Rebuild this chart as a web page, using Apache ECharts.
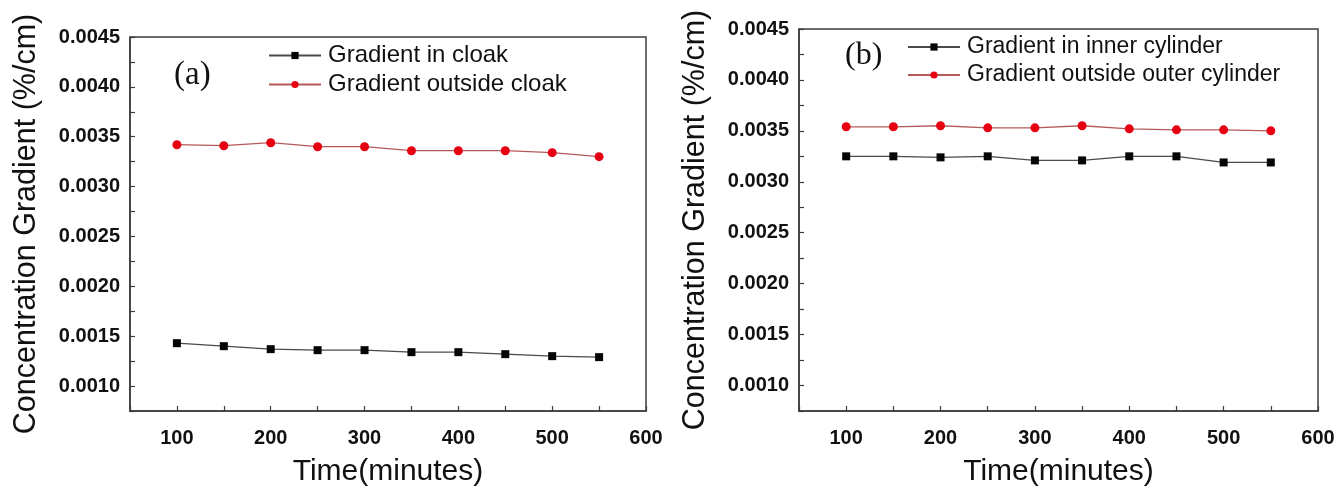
<!DOCTYPE html>
<html>
<head>
<meta charset="utf-8">
<script src="https://cdn.jsdelivr.net/npm/echarts@6/dist/echarts.min.js"></script>
<style>
  html, body { margin: 0; padding: 0; background: #fff; }
  #chart { width: 1338px; height: 492px; }
</style>
</head>
<body>
<div id="chart"></div>
<script>
// Sampling times (minutes)
const timeMinutes = [100, 150, 200, 250, 300, 350, 400, 450, 500, 550];

// (a) cloak
const gradientInCloak      = [0.00143, 0.00140, 0.00137, 0.00136, 0.00136, 0.00134, 0.00134, 0.00132, 0.00130, 0.00129];
const gradientOutsideCloak = [0.00342, 0.00341, 0.00344, 0.00340, 0.00340, 0.00336, 0.00336, 0.00336, 0.00334, 0.00330];

// (b) cylinders
const gradientInnerCylinder = [0.00325, 0.00325, 0.00324, 0.00325, 0.00321, 0.00321, 0.00325, 0.00325, 0.00319, 0.00319];
const gradientOuterCylinder = [0.00354, 0.00354, 0.00355, 0.00353, 0.00353, 0.00355, 0.00352, 0.00351, 0.00351, 0.00350];

// Labelled ticks
const xTickLabels = ['100', '200', '300', '400', '500', '600'];
const yTickLabels = ['0.0010', '0.0015', '0.0020', '0.0025', '0.0030', '0.0035', '0.0040', '0.0045'];

const SANS = 'Liberation Sans, Arial, sans-serif';
const SERIF = 'Liberation Serif, Times New Roman, serif';
const AXIS_COLOR = '#3c3c3c';
const TEXT_COLOR = '#111';

function pairs(ys) {
  return timeMinutes.map((t, i) => [t, ys[i]]);
}

function xAxisFor(gridIndex) {
  return {
    type: 'value', gridIndex, min: 50, max: 600, interval: 50,
    name: 'Time(minutes)', nameLocation: 'middle', nameGap: 46,
    nameTextStyle: { fontFamily: SANS, fontSize: 30, color: TEXT_COLOR },
    axisLine: { show: true, lineStyle: { color: AXIS_COLOR, width: 1.5 } },
    axisTick: { show: true, inside: true, length: 5, lineStyle: { color: AXIS_COLOR, width: 1.2 } },
    axisLabel: {
      margin: 17, fontFamily: SANS, fontSize: 20, fontWeight: 'bold', color: TEXT_COLOR,
      showMinLabel: true, showMaxLabel: true,
      formatter: v => (xTickLabels.includes(String(v)) ? String(v) : '')
    },
    splitLine: { show: false }
  };
}

function yAxisFor(gridIndex) {
  return {
    type: 'value', gridIndex, min: 0.00075, max: 0.0045, interval: 0.00025,
    name: 'Concentration Gradient (%/cm)', nameLocation: 'middle', nameGap: 88,
    nameTextStyle: { fontFamily: SANS, fontSize: 30.5, color: TEXT_COLOR },
    axisLine: { show: true, lineStyle: { color: AXIS_COLOR, width: 1.5 } },
    axisTick: { show: true, inside: true, length: 5, lineStyle: { color: AXIS_COLOR, width: 1.2 } },
    axisLabel: {
      margin: 10, fontFamily: SANS, fontSize: 20, fontWeight: 'bold', color: TEXT_COLOR,
      formatter: v => {
        const s = v.toFixed(4);
        return yTickLabels.includes(s) && Math.abs(v - parseFloat(s)) < 1e-9 ? s : '';
      }
    },
    splitLine: { show: false }
  };
}

function blackSeries(name, ys, idx) {
  return {
    name, type: 'line', xAxisIndex: idx, yAxisIndex: idx, data: pairs(ys),
    symbol: 'rect', symbolSize: 8,
    itemStyle: { color: '#050505' },
    lineStyle: { color: '#4a4a4a', width: 1.3 },
    emphasis: { disabled: true }, animation: false
  };
}

function redSeries(name, ys, idx) {
  return {
    name, type: 'line', xAxisIndex: idx, yAxisIndex: idx, data: pairs(ys),
    symbol: 'circle', symbolSize: 9,
    itemStyle: { color: '#e60012' },
    lineStyle: { color: '#b55a5a', width: 1.3 },
    emphasis: { disabled: true }, animation: false
  };
}

function legendFor(names, left, top, lineH, size) {
  return {
    data: names, orient: 'vertical', left, top,
    itemWidth: 52, itemHeight: 9, itemGap: 0,
    textStyle: { fontFamily: SANS, fontSize: size, color: TEXT_COLOR, lineHeight: lineH, padding: [0, 0, 0, 2] },
    padding: 0, selectedMode: false
  };
}

const chart = echarts.init(document.getElementById('chart'), null, { renderer: 'canvas' });

chart.setOption({
  backgroundColor: '#fff',
  animation: false,
  grid: [
    { left: 130, top: 37, width: 516, height: 380, show: true, borderColor: AXIS_COLOR, borderWidth: 1.5, backgroundColor: 'transparent' },
    { left: 799, top: 29, width: 519, height: 384, show: true, borderColor: AXIS_COLOR, borderWidth: 1.5, backgroundColor: 'transparent' }
  ],
  xAxis: [xAxisFor(0), xAxisFor(1)],
  yAxis: [yAxisFor(0), yAxisFor(1)],
  legend: [
    legendFor(['Gradient in cloak', 'Gradient outside cloak'], 268, 41, 29, 24),
    legendFor(['Gradient in inner cylinder', 'Gradient outside outer cylinder'], 907, 33, 28, 23)
  ],
  graphic: [
    { type: 'text', left: 174, top: 59, style: { text: '(a)', font: '33px ' + SERIF, fill: TEXT_COLOR } },
    { type: 'text', left: 845, top: 40, style: { text: '(b)', font: '32px ' + SERIF, fill: TEXT_COLOR } }
  ],
  series: [
    blackSeries('Gradient in cloak', gradientInCloak, 0),
    redSeries('Gradient outside cloak', gradientOutsideCloak, 0),
    blackSeries('Gradient in inner cylinder', gradientInnerCylinder, 1),
    redSeries('Gradient outside outer cylinder', gradientOuterCylinder, 1)
  ]
});
</script>
</body>
</html>
